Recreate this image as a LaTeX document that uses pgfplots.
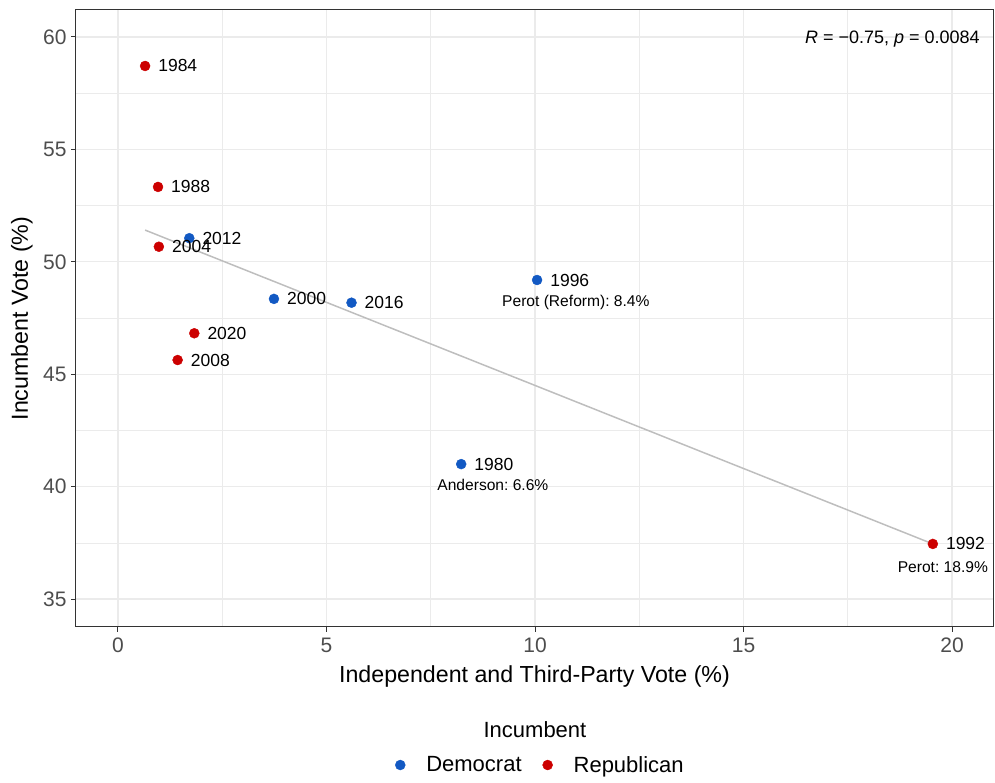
\documentclass[border=0pt]{standalone}
\usepackage{fontspec}
\setmainfont{Liberation Sans}
\usepackage{pgfplots}
\pgfplotsset{compat=1.18}
\usepackage{pgfplotstable}
\definecolor{dem}{HTML}{1259C3}
\definecolor{rep}{HTML}{CC0000}
\definecolor{gridc}{HTML}{EBEBEB}
\definecolor{tickc}{HTML}{4D4D4D}
\definecolor{borderc}{HTML}{333333}
\definecolor{fitc}{HTML}{BEBEBE}

\pgfplotstableread{
x y label
1.71 51.05 2012
3.74 48.35 2000
5.60 48.18 2016
10.05 49.19 1996
8.23 41.00 1980
}\demtab

\pgfplotstableread{
x y label
0.65 58.71 1984
0.96 53.33 1988
0.98 50.67 2004
1.83 46.82 2020
1.43 45.63 2008
19.54 37.45 1992
}\reptab

\begin{document}
\frenchspacing
\begin{tikzpicture}
\path[use as bounding box] (-76pt,-156pt) rectangle (919pt,627pt);
\begin{axis}[
  at={(0pt,0pt)}, anchor=south west,
  scale only axis, width=917pt, height=617pt,
  clip=false,
  xmin=-1.007, xmax=20.983, ymin=33.755, ymax=61.2,
  xtick={0,5,...,20}, ytick={35,40,...,60},
  minor xtick={2.5,7.5,12.5,17.5}, minor ytick={37.5,42.5,47.5,52.5,57.5},
  grid=both,
  major grid style={draw=gridc, line width=1.1pt},
  minor grid style={draw=gridc, line width=0.55pt},
  tick align=outside, major tick length=4.5pt, minor tick length=0pt,
  tick style={draw=borderc, line width=1pt},
  xtick pos=left, ytick pos=left,
  axis line style={draw=borderc, line width=1pt},
  ticklabel style={font=\fontsize{21}{25}\selectfont, text=tickc},
  xticklabel style={yshift=-3pt},
  yticklabel style={xshift=-1.5pt},
  /pgf/number format/assume math mode=true,
  xlabel={Independent and Third-Party Vote (\%)},
  ylabel={Incumbent Vote (\%)},
  label style={font=\fontsize{23.2}{28}\selectfont},
  xlabel style={at={(axis description cs:0.5,-0.081)}, anchor=center},
  ylabel style={at={(axis description cs:-0.0589,0.5)}, anchor=center},
  legend image code/.code={\path[draw=none,fill=none] (-6pt,0pt) -- (24pt,0pt); \draw[#1] plot coordinates {(0pt,0pt)};},
  legend style={at={(0.506,-0.2237)}, anchor=center, draw=none, fill=none,
    legend columns=2, font=\fontsize{22}{26}\selectfont,
    nodes={inner sep=2pt},
    /tikz/every even column/.append style={column sep=18pt}},
  nodes near coords style={anchor=west, xshift=13pt, inner sep=0pt,
    font=\fontsize{17.5}{21}\selectfont, text=black},
]
\addplot[fitc, line width=1.5pt, forget plot] coordinates {(0.65,51.41) (19.54,37.45)};
\addplot[only marks, mark=*, mark size=5pt, color=dem, mark options={draw=dem, fill=dem},
  nodes near coords, point meta=explicit symbolic]
  table[x=x, y=y, meta=label] {\demtab};
\addplot[only marks, mark=*, mark size=5pt, color=rep, mark options={draw=rep, fill=rep},
  nodes near coords, point meta=explicit symbolic]
  table[x=x, y=y, meta=label] {\reptab};
\legend{Democrat, Republican}
\node[anchor=base, font=\fontsize{15.6}{19}\selectfont] at (axis cs:10.98,48.0) {Perot (Reform): 8.4\%};
\node[anchor=base, font=\fontsize{15.6}{19}\selectfont] at (axis cs:8.99,39.82) {Anderson: 6.6\%};
\node[anchor=base, font=\fontsize{15.6}{19}\selectfont] at (axis cs:19.78,36.19) {Perot: 18.9\%};
\node[anchor=base east, inner sep=0pt, font=\fontsize{18}{22}\selectfont] at (axis cs:20.67,59.71) {\textit{R} = −0.75, \textit{p} = 0.0084};
\node[font=\fontsize{22}{26}\selectfont] at (axis description cs:0.5005,-0.167) {Incumbent};
\end{axis}
\end{tikzpicture}
\end{document}
